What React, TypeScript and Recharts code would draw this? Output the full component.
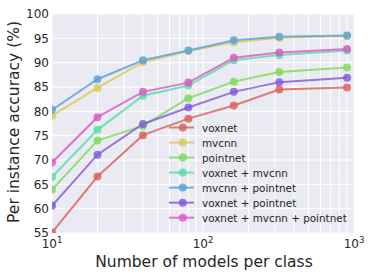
import { LineChart, Line, XAxis, YAxis, CartesianGrid } from "recharts";

const modelsPerClass = [10, 20, 40, 80, 160, 320, 900];

const voxnet = [55.1, 66.6, 75.1, 78.5, 81.2, 84.5, 84.9];
const mvcnn = [79.1, 84.8, 90.1, 92.4, 94.2, 95.1, 95.5];
const pointnet = [63.9, 74.0, 77.0, 82.7, 86.1, 88.1, 89.0];
const voxnetMvcnn = [66.5, 76.2, 83.2, 85.3, 90.5, 91.6, 92.5];
const mvcnnPointnet = [80.3, 86.6, 90.5, 92.5, 94.6, 95.3, 95.6];
const voxnetPointnet = [60.6, 71.1, 77.4, 80.8, 84.0, 86.0, 86.9];
const allThree = [69.5, 78.8, 84.0, 85.9, 91.0, 92.1, 92.8];

const seriesNames = [
  "voxnet",
  "mvcnn",
  "pointnet",
  "voxnet + mvcnn",
  "mvcnn + pointnet",
  "voxnet + pointnet",
  "voxnet + mvcnn + pointnet",
];
const seriesValues = [voxnet, mvcnn, pointnet, voxnetMvcnn, mvcnnPointnet, voxnetPointnet, allThree];
const colors = ["#db5f57", "#dbc857", "#7adb57", "#57dba8", "#57a0db", "#7f57db", "#db57c3"];

const xTicks = [10, 20, 30, 40, 50, 60, 70, 80, 90, 100, 200, 300, 400, 500, 600, 700, 800, 900, 1000];
const yTicks = [55, 60, 65, 70, 75, 80, 85, 90, 95, 100];
const xMajor: Record<number, string> = { 10: "1", 100: "2", 1000: "3" };

const data = modelsPerClass.map((n, i) => {
  const row: Record<string, number> = { n };
  seriesNames.forEach((name, s) => {
    row[name] = seriesValues[s][i];
  });
  return row;
});

const FONT = "DejaVu Sans";
const TEXT = "#262626";

function XTick({ x, y, payload }: any) {
  const exp = xMajor[payload.value];
  if (!exp) return null;
  return (
    <text x={x} y={y + 15} textAnchor="middle" fontSize={12} fill={TEXT} fontFamily={FONT}>
      10<tspan dy={-5} fontSize={8.5}>{exp}</tspan>
    </text>
  );
}

function ChartLegend() {
  return (
    <svg width={200} height={110} style={{ position: "absolute", left: 160, top: 118 }}>
      {seriesNames.map((name, i) => {
        const cy = 9.5 + i * 15.03;
        return (
          <g key={name}>
            <line x1={9} x2={34} y1={cy} y2={cy} stroke={colors[i]} strokeOpacity={0.8} strokeWidth={2} />
            <circle cx={22.7} cy={cy} r={4} fill={colors[i]} fillOpacity={0.8} />
            <text x={42} y={cy + 4} fontSize={10.4} fill={TEXT} fontFamily={FONT}>
              {name}
            </text>
          </g>
        );
      })}
    </svg>
  );
}

export default function App() {
  return (
    <div style={{ position: "fixed", left: 0, top: 0, width: 374, height: 280, background: "#fff" }}>
      <LineChart width={374} height={280} data={data} margin={{ top: 14, right: 20, left: 0, bottom: 0 }}>
        <CartesianGrid stroke="#ffffff" strokeWidth={1} fill="#eaeaf2" />
        <XAxis
          dataKey="n"
          type="number"
          scale="log"
          domain={[10, 1000]}
          ticks={xTicks}
          allowDataOverflow
          height={47}
          axisLine={false}
          tickLine={false}
          tickSize={0}
          tickMargin={0}
          interval={0}
          tick={<XTick />}
          label={{
            content: () => (
              <text x={204} y={267} textAnchor="middle" fontSize={15.5} fill={TEXT} fontFamily={FONT}>
                Number of models per class
              </text>
            ),
          }}
        />
        <YAxis
          type="number"
          domain={[55, 100]}
          ticks={yTicks}
          allowDataOverflow
          width={52}
          axisLine={false}
          tickLine={false}
          tickSize={0}
          tickMargin={3}
          interval={0}
          tick={{ fontSize: 12, fill: TEXT, fontFamily: FONT }}
          label={{
            content: () => (
              <text
                x={14}
                y={122}
                transform="rotate(-90, 14, 122)"
                textAnchor="middle"
                dominantBaseline="central"
                fontSize={15.5}
                fill={TEXT}
                fontFamily={FONT}
              >
                Per instance accuracy (%)
              </text>
            ),
          }}
        />
        {seriesNames.map((name, i) => (
          <Line
            key={name}
            dataKey={name}
            type="linear"
            stroke={colors[i]}
            strokeWidth={2}
            strokeOpacity={0.8}
            dot={{ r: 4, fill: colors[i], fillOpacity: 0.8, stroke: "none" }}
            activeDot={false}
            isAnimationActive={false}
          />
        ))}
      </LineChart>
      <ChartLegend />
    </div>
  );
}
